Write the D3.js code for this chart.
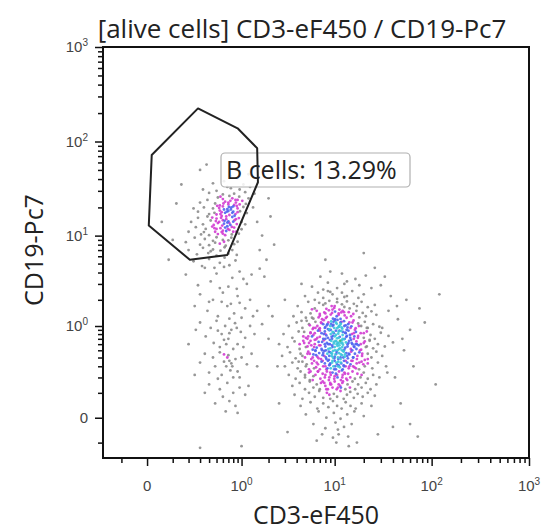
<!DOCTYPE html>
<html><head><meta charset="utf-8">
<script src="https://cdn.jsdelivr.net/npm/d3@7"></script>
<style>body{margin:0;background:#fff;} svg{display:block;}</style>
</head><body><svg id="c" width="546" height="532"></svg>
<script>
// ---------- data (CD3-eF450, CD19-Pc7) ----------
const tCells = [
[7.1,3.6],[11.9,3.9],[16.4,3.4],[9.0,4.1],[21,3.7],
[5.8,2.8],[8.5,3.1],[10.6,2.7],[13.4,3.2],[7.6,2.6],[18,2.9],[12.6,3.0],[24,2.7],
[4.9,2.2],[6.7,2.4],[7.6,2.1],[8.5,2.5],[9.5,2.3],[10.6,2.05],[11.9,2.4],[13.4,2.2],[15.2,2.5],[17.6,2.1],[6.2,2.0],[9.0,2.45],[20,2.3],[12.6,2.15],
[4.1,1.7],[5.3,1.9],[6.2,1.6],[6.9,1.85],[7.6,1.75],[8.2,1.58],[8.8,1.95],[9.3,1.7],[9.9,1.62],[10.6,1.88],[11.2,1.55],[11.9,1.78],[12.6,1.66],[13.4,1.92],[14.3,1.6],[15.8,1.8],[17,1.7],[19,1.9],[22,1.65],[5.8,1.56],[8.0,1.82],[26,1.75],
[3.7,1.3],[4.5,1.45],[5.0,1.25],[5.6,1.4],[6.0,1.22],[6.5,1.5],[7.0,1.32],[7.4,1.2],[7.8,1.44],[8.3,1.28],[8.7,1.52],[9.1,1.36],[9.6,1.22],[10.1,1.47],[10.5,1.3],[11.0,1.4],[11.5,1.21],[12.1,1.5],[12.7,1.33],[13.3,1.25],[14.0,1.45],[14.8,1.3],[15.6,1.38],[16.8,1.5],[18,1.26],[19.5,1.42],[21,1.3],[24,1.48],[27,1.35],[9.4,1.42],[6.8,1.26],[11.7,1.44],
[3.3,1.0],[4.0,1.1],[4.6,0.95],[5.1,1.15],[5.5,1.02],[5.9,0.92],[6.3,1.12],[6.6,1.0],[7.0,0.94],[7.3,1.08],[7.7,1.17],[8.0,0.97],[8.4,1.05],[8.8,0.91],[9.2,1.13],[9.5,1.0],[9.9,0.95],[10.3,1.1],[10.7,1.18],[11.1,0.98],[11.6,1.06],[12.0,0.93],[12.5,1.14],[13.0,1.02],[13.6,0.96],[14.2,1.1],[14.9,0.99],[15.7,1.16],[16.5,0.94],[17.5,1.07],[18.8,1.0],[20.5,1.12],[22,0.95],[25,1.05],[29,0.98],[8.6,1.1],[10.0,1.16],[6.9,0.92],[11.8,1.12],[9.7,1.03],
[2.9,0.8],[3.6,0.72],[4.2,0.86],[4.7,0.75],[5.2,0.7],[5.6,0.84],[6.0,0.78],[6.4,0.69],[6.7,0.88],[7.0,0.74],[7.3,0.82],[7.6,0.7],[7.9,0.86],[8.2,0.77],[8.5,0.72],[8.8,0.89],[9.1,0.8],[9.4,0.7],[9.7,0.84],[10.0,0.75],[10.3,0.88],[10.6,0.71],[10.9,0.81],[11.3,0.74],[11.7,0.87],[12.1,0.78],[12.5,0.69],[12.9,0.83],[13.4,0.76],[13.9,0.88],[14.5,0.72],[15.1,0.8],[15.8,0.7],[16.6,0.85],[17.5,0.76],[18.6,0.82],[20,0.72],[21.5,0.86],[23.5,0.78],[26,0.7],[30,0.83],[36,0.76],[8.0,0.8],[9.6,0.76],[11.0,0.86],[6.2,0.82],
[2.6,0.6],[3.2,0.55],[3.8,0.65],[4.3,0.52],[4.8,0.62],[5.2,0.56],[5.6,0.66],[5.9,0.51],[6.2,0.6],[6.5,0.54],[6.8,0.64],[7.1,0.58],[7.4,0.5],[7.7,0.67],[8.0,0.56],[8.3,0.62],[8.6,0.52],[8.9,0.6],[9.2,0.66],[9.5,0.55],[9.8,0.61],[10.1,0.5],[10.4,0.65],[10.7,0.57],[11.0,0.62],[11.4,0.53],[11.8,0.67],[12.2,0.59],[12.6,0.51],[13.1,0.63],[13.6,0.56],[14.1,0.66],[14.7,0.52],[15.3,0.6],[16,0.55],[16.8,0.65],[17.7,0.58],[18.8,0.51],[20,0.62],[21.5,0.56],[23,0.66],[25,0.53],[28,0.6],[33,0.56],[40,0.63],[9.0,0.53],[10.5,0.6],[7.9,0.6],[12.0,0.55],[11.2,0.58],
[2.8,0.42],[3.4,0.47],[3.9,0.39],[4.4,0.45],[4.9,0.4],[5.3,0.48],[5.7,0.38],[6.0,0.44],[6.3,0.49],[6.6,0.41],[6.9,0.46],[7.2,0.38],[7.5,0.43],[7.8,0.49],[8.1,0.4],[8.4,0.45],[8.7,0.37],[9.0,0.47],[9.3,0.42],[9.6,0.49],[9.9,0.39],[10.2,0.44],[10.5,0.48],[10.8,0.4],[11.1,0.46],[11.5,0.38],[11.9,0.43],[12.3,0.49],[12.7,0.41],[13.2,0.46],[13.7,0.39],[14.2,0.44],[14.8,0.48],[15.5,0.4],[16.2,0.45],[17,0.38],[18,0.47],[19.2,0.42],[20.5,0.37],[22,0.45],[24,0.4],[27,0.48],[31,0.42],[8.8,0.42],[10.0,0.41],[9.4,0.45],[11.6,0.44],[7.6,0.46],[12.8,0.44],[6.4,0.43],
[3.0,0.3],[3.6,0.34],[4.1,0.28],[4.6,0.35],[5.0,0.3],[5.4,0.27],[5.8,0.33],[6.1,0.36],[6.4,0.29],[6.7,0.32],[7.0,0.27],[7.3,0.35],[7.6,0.3],[7.9,0.33],[8.2,0.27],[8.5,0.36],[8.8,0.31],[9.1,0.28],[9.4,0.34],[9.7,0.3],[10.0,0.36],[10.3,0.27],[10.6,0.32],[10.9,0.35],[11.3,0.29],[11.7,0.33],[12.1,0.27],[12.5,0.36],[13,0.3],[13.5,0.34],[14,0.28],[14.6,0.32],[15.3,0.36],[16,0.29],[16.9,0.33],[17.9,0.27],[19,0.35],[20.5,0.3],[22,0.33],[24.5,0.28],[28,0.34],[34,0.3],[9.0,0.33],[11.0,0.31],[8.0,0.3],[12.4,0.31],
[3.3,0.22],[3.9,0.19],[4.4,0.25],[4.9,0.2],[5.4,0.24],[5.9,0.18],[6.3,0.22],[6.7,0.25],[7.1,0.19],[7.5,0.23],[7.9,0.2],[8.3,0.25],[8.7,0.18],[9.1,0.22],[9.5,0.24],[9.9,0.19],[10.3,0.23],[10.7,0.2],[11.1,0.25],[11.6,0.18],[12.1,0.22],[12.6,0.24],[13.2,0.19],[13.8,0.23],[14.5,0.2],[15.3,0.25],[16.2,0.19],[17.2,0.23],[18.5,0.2],[20,0.24],[22,0.19],[25,0.22],[29,0.2],[8.0,0.22],[10.0,0.21],[12.0,0.2],[6.0,0.21],[35,0.24],
[3.6,0.14],[4.3,0.16],[4.9,0.12],[5.5,0.17],[6.0,0.13],[6.5,0.15],[7.0,0.12],[7.5,0.17],[8.0,0.14],[8.5,0.12],[9.0,0.16],[9.5,0.13],[10,0.17],[10.5,0.12],[11,0.15],[11.6,0.13],[12.2,0.17],[12.9,0.12],[13.6,0.15],[14.4,0.13],[15.3,0.17],[16.3,0.12],[17.5,0.15],[19,0.13],[21,0.16],[23.5,0.12],[27,0.15],[9.2,0.15],[7.8,0.16],[11.4,0.14],
[3.8,0.09],[4.6,0.07],[5.4,0.1],[6.2,0.08],[6.9,0.11],[7.6,0.075],[8.3,0.1],[9.0,0.07],[9.8,0.095],[10.6,0.08],[11.5,0.11],[12.4,0.07],[13.4,0.09],[14.5,0.105],[15.8,0.075],[17.3,0.095],[19.5,0.08],[22,0.1],[26,0.085],[8.8,0.09],
[4.4,0.04],[5.6,0.055],[6.6,0.03],[7.6,0.05],[8.6,0.035],[9.6,0.06],[10.6,0.04],[11.8,0.03],[13,0.055],[14.6,0.04],[16.5,0.03],[19,0.05],[24,0.04],
[5.0,0.01],[6.8,0.02],[8.2,0.0],[9.8,0.015],[11.5,-0.003],[13.5,0.01],[16,0.02],[20,0.005],
[6.0,-0.02],[8.0,-0.035],[10.2,-0.015],[12.5,-0.03],[15,-0.02],[10.8,-0.04],
[7.4,-0.06],[9.6,-0.075],[11,-0.06],[13.8,-0.07],[10.4,-0.1],
[6.3,0.95],[6.9,0.58],[7.2,1.1],[7.5,0.36],[7.7,0.8],[8.1,1.24],[8.1,0.5],[8.4,0.28],[8.5,0.92],[8.9,0.68],[9.0,0.24],[9.2,1.05],[9.4,0.58],[9.5,0.36],[9.8,0.82],[9.9,0.27],[10.1,1.2],[10.2,0.66],[10.4,0.45],[10.6,0.94],[10.8,0.3],[11.0,0.72],[11.1,0.52],[11.3,1.02],[11.5,0.4],[11.7,0.62],[11.9,0.26],[12.2,0.85],[12.4,0.48],[12.7,0.7],[13.0,0.36],[13.3,0.9],[13.6,0.6],[14.0,0.45],[14.4,0.78],
[6.6,0.72],[6.8,0.39],[7.0,0.88],[7.4,0.64],[7.8,0.42],[8.0,0.7],[8.3,1.02],[8.7,0.48],[8.9,0.32],[9.1,0.9],[9.3,0.74],[9.6,0.4],[9.7,1.12],[10.0,0.55],[10.1,0.3],[10.3,0.78],[10.5,1.06],[10.7,0.5],[10.9,0.38],[11.2,0.88],[11.4,0.66],[11.6,0.34],[11.8,0.96],[12.0,0.62],[12.3,0.4],[12.6,1.0],[12.9,0.54],[13.2,0.74],[13.5,0.42],[13.9,0.62],[14.6,0.95],[15.2,0.5],[15.8,0.82],
[7.3,0.52],[7.9,0.95],[8.6,0.6],[9.2,0.46],[9.8,0.64],[10.4,0.34],[11.0,0.98],[11.9,0.5],[12.5,0.3],[13.0,0.82],[6.1,0.55],[6.5,0.34],[5.8,0.75],[5.5,0.45],[16.5,0.6],[17.2,0.42],[15.5,0.3],[14.8,0.68],[8.2,0.38],[9.5,0.85],[10.8,0.62],[12.1,0.7],[7.6,1.05],[11.5,1.1],[9.0,1.0],[13.8,1.05],[8.8,0.2],[10.6,0.22],[12.8,0.23],[6.7,0.25],[14.2,0.3],
[4.3,0.6],[4.6,0.42],[4.8,0.85],[5.0,0.55],[5.1,0.32],[5.3,0.75],[5.4,1.05],[5.6,0.25],[5.7,0.58],[5.9,0.4],[6.0,0.95],[6.2,0.68],[4.5,1.15],[4.9,0.22],[5.5,0.18],[5.2,0.45],[5.8,1.25],[4.7,0.66],[6.1,0.28],[5.6,0.82],[4.2,0.35],[5.0,0.72],[6.3,0.5],[5.4,0.62],
[15,0.62],[15.6,0.4],[16.2,0.9],[16.8,0.52],[17.4,0.72],[18,0.34],[18.6,0.6],[19.3,0.45],[20,0.82],[21,0.55],[22,0.38],[23,0.68],[15.3,1.1],[16.6,0.28],[17.8,1.0],[19,0.22],[20.5,0.65],[14.9,0.36],[16,0.75],[18.3,0.5],[21.5,0.95],[17,0.6],[19.8,0.32],[15.8,0.56],
[8,1.4],[9.5,1.55],[11,1.35],[12.5,1.45],[7,1.38],[10,1.7],[9,0.15],[10.8,0.13],[12,0.16],[8.2,0.12],[13.5,0.18],[7.2,0.16]
];
const bCells = [
[0.62,38],[0.9,41],[0.45,36],[1.05,35],[0.75,43],
[0.5,30],[0.68,33],[0.82,28],[0.95,31],[0.4,28.5],[1.1,29],[0.6,27.5],[0.75,32],[1.25,33],[0.33,31],
[0.38,24],[0.48,22],[0.56,26],[0.64,23],[0.7,21.5],[0.78,25],[0.86,22.5],[0.94,26],[1.02,23.5],[1.12,21.8],[0.3,22.5],[0.6,24.5],[0.72,26.5],[0.82,21.2],[0.9,24],[1.2,25],[0.52,25.5],
[0.28,18],[0.34,20],[0.4,17],[0.45,19.5],[0.5,16.8],[0.55,18.5],[0.6,20.5],[0.64,17.5],[0.68,19.2],[0.72,16.6],[0.76,20],[0.8,18],[0.85,17],[0.9,19.5],[0.96,18.2],[1.05,20.2],[1.15,17.4],[0.58,17.8],[0.7,18.3],[0.47,17.5],[0.88,20.7],[0.24,19.5],
[0.22,14],[0.28,15.5],[0.33,13.2],[0.38,16],[0.42,14.5],[0.46,13],[0.5,15.2],[0.54,14],[0.58,16.2],[0.62,13.4],[0.66,15],[0.7,14.2],[0.74,13],[0.78,15.8],[0.83,14.6],[0.88,13.3],[0.93,15.4],[1.0,14],[1.1,13.2],[0.6,14.6],[0.68,13.8],[0.52,13.6],[0.8,14.1],[0.44,15.6],
[0.2,11],[0.26,12.3],[0.31,10.3],[0.36,11.8],[0.4,10.1],[0.44,12.5],[0.48,11],[0.52,10.4],[0.56,12],[0.6,11.3],[0.64,10.1],[0.68,12.6],[0.72,11.5],[0.77,10.3],[0.82,12.2],[0.87,11],[0.93,10.5],[0.58,10.9],[0.5,11.8],[0.66,11.2],[0.34,10.9],[1.0,11.7],
[0.18,8.5],[0.25,9.5],[0.3,8],[0.35,9.2],[0.4,7.9],[0.45,8.8],[0.5,9.6],[0.55,8.2],[0.6,9],[0.65,7.8],[0.7,8.9],[0.76,9.5],[0.82,8.1],[0.9,8.6],[0.48,8.4],[0.62,8.6],
[0.2,7],[0.27,6.3],[0.33,7.4],[0.39,6.5],[0.45,7.1],[0.5,6.1],[0.56,6.9],[0.63,7.5],[0.7,6.4],[0.78,7],[0.88,6.2],[0.42,6.8],
[0.24,5.3],[0.32,4.7],[0.4,5.6],[0.47,4.5],[0.55,5.1],[0.63,5.8],[0.72,4.8],[0.85,5.4],
[0.55,21],[0.62,19],[0.7,22.5],[0.78,17.5],[0.66,16],[0.72,13.6],[0.57,15.5],[0.8,20.5],[0.86,15],[0.64,12.2],[0.49,14.3],[0.54,19.7],[0.61,22],[0.75,19],[0.69,11.8],[0.83,16.3],[0.9,17.8],[0.59,12.8],[0.51,20.8],[0.74,23.5],[0.95,21.5],[0.67,18],[0.63,14.4],[0.77,12.4],[0.56,17],[0.47,12],[0.85,24],[0.71,20.2],[0.6,10.5],[0.8,11]
];
const cd19LowCells = [
[0.35,4.5],[0.5,3.9],[0.62,4.6],[0.78,3.5],[0.95,4.1],[1.15,3.0],[0.42,3.2],[0.7,2.8],[1.3,3.8],[0.28,2.9],[0.88,2.65],[1.05,3.4],[0.55,2.7],[1.6,4.4],
[0.3,2.3],[0.45,2.0],[0.6,2.4],[0.75,1.8],[0.9,2.2],[1.1,1.6],[0.38,1.5],[0.52,1.3],[0.68,1.7],[0.82,1.4],[1.0,1.25],[1.25,2.0],[0.25,1.7],[0.58,1.9],[0.72,1.22],[1.5,1.5],[0.95,1.85],[0.4,1.9],[1.35,1.3],[2.0,1.7],
[0.3,1.1],[0.42,0.95],[0.5,1.15],[0.58,0.8],[0.64,1.0],[0.7,0.7],[0.76,0.9],[0.84,1.08],[0.9,0.6],[0.98,0.85],[1.1,0.72],[1.25,1.0],[0.36,0.75],[0.46,0.62],[0.55,0.55],[0.66,0.6],[0.8,0.52],[0.72,0.82],[0.62,0.68],[1.4,0.8],[0.26,0.9],[0.88,0.95],[1.05,0.55],[0.52,0.88],[1.7,1.05],[0.2,0.6],
[0.35,0.45],[0.45,0.4],[0.55,0.47],[0.62,0.35],[0.7,0.43],[0.78,0.3],[0.85,0.38],[0.74,0.26],[0.66,0.3],[0.58,0.22],[0.9,0.25],[1.0,0.4],[1.15,0.32],[0.48,0.3],[0.4,0.24],[0.3,0.34],[0.8,0.2],[0.72,0.36],[0.68,0.4],[0.76,0.33],[1.3,0.45],[0.52,0.19],[0.95,0.2],[0.25,0.22],[1.5,0.3],[0.62,0.44],
[0.4,0.15],[0.55,0.12],[0.68,0.16],[0.8,0.1],[0.95,0.13],[0.6,0.08],[0.72,0.06],[0.48,0.05],[0.85,0.04],[1.1,0.09],[0.35,0.1],[0.65,0.02],[0.9,0.015],[1.2,0.14]
];
const otherEvents = [
[2.2,1.3],[2.5,0.3],[2.0,0.7],[45,1.2],[52,0.5],[60,0.9],[42,0.2],[38,2.2],[30,2.9],[48,0.05],[75,1.6],[85,1.1],[55,2.0],[40,-0.03],[72,-0.07],[65,0.3],[33,3.6],[26,4.5],[4.5,3.0],[3.0,2.0],[2.6,0.05],[3.2,-0.05],[28,-0.06],[17,-0.1],[14,-0.12],[6.5,-0.09],[110,0.15],[60,-0.02],[50,0.7],[44,1.7],[36,1.5],[31,0.95],
[0.3,-0.13],[1.0,-0.12],
[0.05,14],[0.1,9],[0.12,22],[1.4,28],[1.5,14],[1.7,10],[1.35,20],[1.6,7],[1.9,5.5],[2.1,16],[0.15,35],[0.3,50],[0.37,57],[1.2,45],[0.08,5.5],[2.3,8],[2.0,25],[1.8,3.6],[0.18,3.8],
[120,2.3],[8,5.5],[20,6.5]
];
const gateCD3  = [0.28, 0.90, 1.50, 1.53, 0.68, 0.21, 0.005, 0.014];
const gateCD19 = [224, 138, 85, 37, 6.2, 5.5, 12.8, 72];
const gateLabel = "B cells: 13.29%";
const majorTicks = [0, 1, 10, 100, 1000];
const majorBase = ["0", "10", "10", "10", "10"];
const majorExp  = ["", "0", "1", "2", "3"];
const minorTicks = [-0.1,0.1,0.2,0.3,0.4,0.5,0.6,0.7,0.8,0.9,2,3,4,5,6,7,8,9,20,30,40,50,60,70,80,90,200,300,400,500,600,700,800,900];
const titleText = "[alive cells] CD3-eF450 / CD19-Pc7";
const xTitle = "CD3-eF450";
const yTitle = "CD19-Pc7";

// ---------- drawing ----------
const svg = d3.select("#c");
const x = d3.scaleSymlog().constant(0.12).domain([-0.22, 1000]).range([103, 529]);
const y = d3.scaleSymlog().constant(0.12).domain([-0.2, 1000]).range([458, 47]);

const all = [].concat(tCells, bCells, cd19LowCells, otherEvents).map(d => ({px: x(d[0]), py: y(d[1])}));
const R = 5;
all.forEach(p => {
  let n = 0;
  for (const q of all) { const dx = p.px - q.px, dy = p.py - q.py; if (dx*dx + dy*dy < R*R) n++; }
  p.n = n - 1;
});
const densColor = d3.scaleThreshold().domain([3, 7, 11, 15]).range(["#8c8c8c", "#d23cd2", "#4f63f0", "#3cc4dc", "#3cb878"]);
all.sort((a, b) => a.n - b.n);

svg.append("g").selectAll("circle").data(all).join("circle")
  .attr("cx", d => d.px).attr("cy", d => d.py).attr("r", 1.4)
  .attr("fill", d => densColor(d.n)).attr("fill-opacity", 0.9);

// label box
const lab = svg.append("g");
lab.append("rect").attr("x", 221).attr("y", 153).attr("width", 189).attr("height", 34).attr("rx", 4)
  .attr("fill", "#fff").attr("fill-opacity", 0.85).attr("stroke", "#b0b0b0").attr("stroke-width", 1.2);
lab.append("text").attr("x", 226).attr("y", 179).attr("font-family", "Open Sans, sans-serif").attr("font-size", 25)
  .attr("fill", "#222").text(gateLabel);

// gate
const gatePts = gateCD3.map((v, i) => [x(v), y(gateCD19[i])]);
svg.append("path").attr("d", d3.line().curve(d3.curveLinearClosed)(gatePts))
  .attr("fill", "none").attr("stroke", "#222").attr("stroke-width", 2).attr("stroke-linejoin", "round");

// axes
function styleAxis(g) { g.select(".domain").remove(); g.selectAll("line").attr("stroke", "#111").attr("stroke-width", 1.5); }
svg.append("g").attr("transform", "translate(0,458)")
  .call(d3.axisBottom(x).tickValues(minorTicks).tickSize(5).tickFormat(""))
  .call(styleAxis);
svg.append("g").attr("transform", "translate(0,458)")
  .call(d3.axisBottom(x).tickValues(majorTicks).tickSize(8).tickFormat(""))
  .call(styleAxis);
svg.append("g").attr("transform", "translate(103,0)")
  .call(d3.axisLeft(y).tickValues(minorTicks).tickSize(5).tickFormat(""))
  .call(styleAxis);
svg.append("g").attr("transform", "translate(103,0)")
  .call(d3.axisLeft(y).tickValues(majorTicks).tickSize(8).tickFormat(""))
  .call(styleAxis);

// frame
svg.append("rect").attr("x", x.range()[0]).attr("y", y.range()[1])
  .attr("width", x.range()[1] - x.range()[0]).attr("height", y.range()[0] - y.range()[1])
  .attr("fill", "none").attr("stroke", "#111").attr("stroke-width", 2);

// tick labels
const tickFont = "Liberation Sans, Arial, sans-serif";
majorTicks.forEach((v, i) => {
  const tx = svg.append("text").attr("x", x(v)).attr("y", 491).attr("text-anchor", "middle")
    .attr("font-family", tickFont).attr("font-size", 15).attr("fill", "#444");
  tx.append("tspan").text(majorBase[i]);
  if (majorExp[i]) tx.append("tspan").attr("dy", -6).attr("font-size", 10).text(majorExp[i]);
  const ty = svg.append("text").attr("x", 88).attr("y", y(v) + 5).attr("text-anchor", "end")
    .attr("font-family", tickFont).attr("font-size", 15).attr("fill", "#444");
  ty.append("tspan").text(majorBase[i]);
  if (majorExp[i]) ty.append("tspan").attr("dy", -6).attr("font-size", 10).text(majorExp[i]);
});

// titles
const titleFont = "Open Sans, sans-serif";
svg.append("text").attr("x", 302).attr("y", 38).attr("text-anchor", "middle")
  .attr("font-family", titleFont).attr("font-size", 26).attr("fill", "#222").text(titleText);
svg.append("text").attr("x", 316).attr("y", 524).attr("text-anchor", "middle")
  .attr("font-family", titleFont).attr("font-size", 25).attr("fill", "#222").text(xTitle);
svg.append("text").attr("transform", "translate(43,250) rotate(-90)").attr("text-anchor", "middle")
  .attr("font-family", titleFont).attr("font-size", 25).attr("fill", "#222").text(yTitle);
</script>
</body></html>
